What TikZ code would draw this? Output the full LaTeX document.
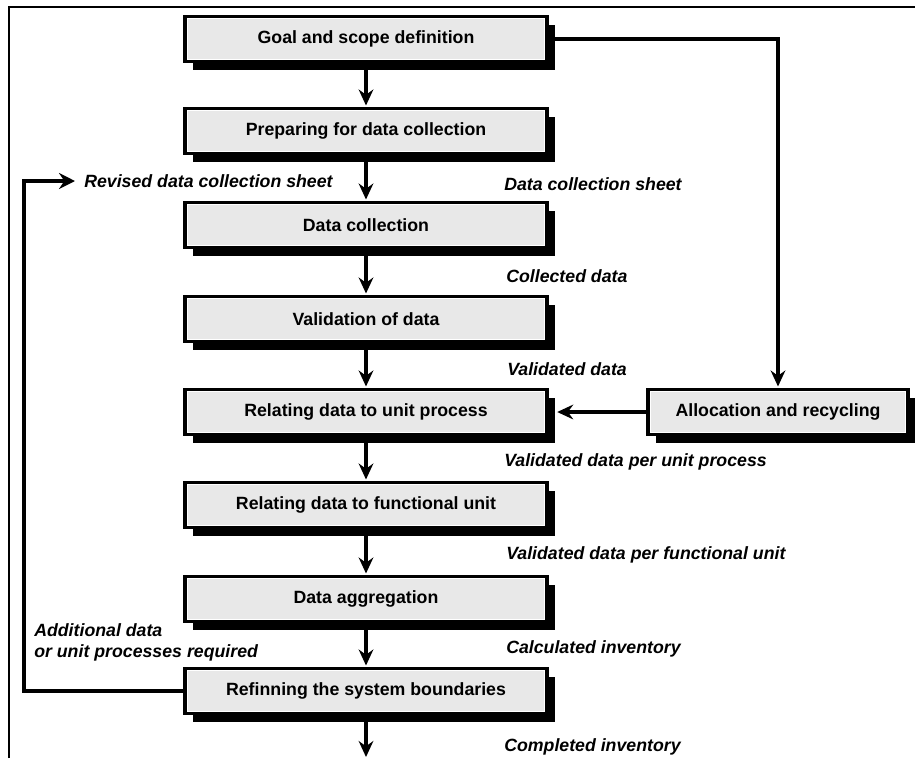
\documentclass[tikz,border=0pt]{standalone}
\usepackage{fontspec}
\setmainfont{Liberation Sans}
\usetikzlibrary{arrows.meta,shadows}

\begin{document}
\begin{tikzpicture}[x=0.75pt,y=-0.75pt,
  stage/.style={draw=black,line width=2.5pt,fill=gray!18,inner sep=0pt,
    minimum width=271.5pt,minimum height=33.75pt,
    font=\fontsize{13.3}{16}\selectfont\bfseries,
    path picture={\draw[white,line width=3.8pt] (path picture bounding box.south west)
      rectangle (path picture bounding box.north east);},
    drop shadow={shadow xshift=6pt,shadow yshift=-6pt,fill=black,opacity=1}},
  flow/.style={line width=2.3pt,-{Stealth[length=12pt,width=11pt,inset=4pt]}},
  tag/.style={anchor=west,inner sep=0pt,font=\fontsize{13.3}{15.8}\selectfont\bfseries\itshape}]
\useasboundingbox (0,0) rectangle (915,758);
% frame
\draw[line width=1.2pt] (9,758) -- (9,7) -- (915,7);
% main chain
\node[stage] (goal) at (366,39) {Goal and scope definition};
\node[stage] (prep) at (366,131) {Preparing for data collection};
\node[stage] (collect) at (366,225) {Data collection};
\node[stage] (valid) at (366,319) {Validation of data};
\node[stage] (relunit) at (366,412) {Relating data to unit process};
\node[stage] (relfunc) at (366,505) {Relating data to functional unit};
\node[stage] (aggr) at (366,599) {Data aggregation};
\node[stage] (refine) at (366,691) {Refinning the system boundaries};
% side box
\node[stage,minimum width=195pt] (alloc) at (778,412) {Allocation and recycling};
\coordinate (outlet) at (366,757);
\draw[flow,shorten >=1pt] (goal) -- (prep);
\draw[flow,shorten >=1pt] (prep) -- (collect);
\draw[flow,shorten >=1pt] (collect) -- (valid);
\draw[flow,shorten >=1pt] (valid) -- (relunit);
\draw[flow,shorten >=1pt] (relunit) -- (relfunc);
\draw[flow,shorten >=1pt] (relfunc) -- (aggr);
\draw[flow,shorten >=1pt] (aggr) -- (refine);
\draw[flow] (refine) -- (outlet);
\draw[flow,shorten >=1pt] (goal.east) -| (alloc.north);
\draw[flow,shorten >=6.4pt] (alloc) -- (relunit);
% feedback loop
\coordinate (loopx) at (24,0);
\coordinate (revtip) at (75,181);
\draw[line width=3.6pt,-{Stealth[length=12pt,width=12pt,inset=4pt]}]
  (refine.west) -- (refine.west -| loopx) |- (revtip);
% flow labels
\node[tag] (revised) at (84,181) {Revised data collection sheet};
\node[tag] (sheet) at (504,184) {Data collection sheet};
\node[tag] (collected) at (506,276) {Collected data};
\node[tag] (validated) at (507,369) {Validated data};
\node[tag] (perunit) at (504,462) {Validated data per unit process};
\node[tag] (perfunc) at (506,555) {Validated data per functional unit};
\node[tag] (calc) at (506,649) {Calculated inventory};
\node[tag] (completed) at (504,747) {Completed inventory};
\node[tag,align=left] (additional) at (34,642) {Additional data\\or unit processes required};
\end{tikzpicture}
\end{document}
